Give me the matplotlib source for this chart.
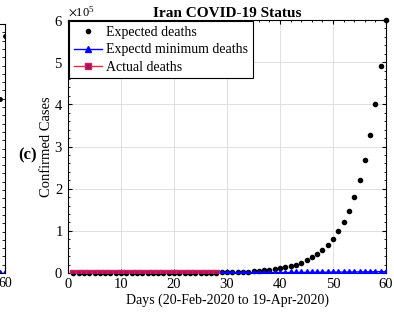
import matplotlib
matplotlib.use('Agg')
import matplotlib.pyplot as plt
from matplotlib.ticker import MultipleLocator, ScalarFormatter

plt.rcParams['font.family'] = ['Liberation Serif', 'DejaVu Serif']
plt.rcParams['mathtext.fontset'] = 'stix'

# panel (c) data: day index 1..60
days = list(range(1, 61))
expected_deaths = [
    5, 6, 7, 9, 11, 13, 16, 20, 24, 29,
    36, 43, 53, 65, 79, 96, 117, 143, 175, 210,
    250, 300, 370, 450, 550, 670, 820, 1000, 1220, 1490,
    1800, 2200, 2700, 3300, 4000, 4900, 6000, 7300, 9000, 11000,
    13500, 16500, 20000, 24500, 30000, 37000, 45000, 55000, 67000, 81000,
    100000, 120000, 148000, 180000, 220000, 268000, 328000, 400000, 490000, 600000,
]
min_deaths = [
    2, 3, 4, 5, 7, 9, 11, 14, 18, 22,
    27, 33, 40, 48, 57, 68, 80, 94, 110, 128,
    148, 170, 195, 222, 252, 285, 321, 360, 402, 447,
    495, 546, 600, 657, 717, 780, 846, 915, 987, 1062,
    1140, 1221, 1305, 1392, 1482, 1575, 1671, 1770, 1872, 1977,
    2085, 2196, 2310, 2427, 2547, 2670, 2796, 2925, 3057, 3192,
]
actual_days = list(range(1, 29))
actual_deaths = [2, 4, 5, 8, 12, 16, 19, 26, 34, 43, 54, 66, 77, 92,
                 107, 124, 145, 194, 237, 291, 354, 429, 514, 611, 724, 853, 988, 1135]

# right edge of panel (b), only a sliver shows
b_days = [59, 60]
b_expected = [4.2, 5.7]
b_min = [0.01, 0.01]

fig = plt.figure(figsize=(3.94, 3.2), dpi=100)

# sliver of previous panel
axb = fig.add_axes([-313 / 394, 47 / 320, 318 / 394, 249 / 320])
axb.plot(b_days, b_min, color='#0000ff', marker='^', markersize=4.5, lw=1)
axb.plot(b_days, b_expected, 'k.', markersize=5, linestyle='none')
axb.set_xlim(0, 60)
axb.set_ylim(0, 6)
axb.set_xticks([60])
axb.set_yticks([])
axb.yaxis.set_minor_locator(MultipleLocator(0.2))
axb.tick_params(which='both', direction='in', right=True, left=False, labelsize=10, pad=3)
axb.tick_params(which='minor', length=2)
axb.tick_params(which='major', length=4)

ax = fig.add_axes([68 / 394, 47 / 320, 318 / 394, 253 / 320])
ax.plot(days, expected_deaths, 'k.', markersize=6, linestyle='none',
        label='Expected deaths', zorder=2.5, clip_on=False)
ax.plot(days, min_deaths, color='#0000ff', marker='^', markersize=4.8, lw=1,
        label='Expectd minimum deaths', zorder=3)
ax.plot(actual_days, actual_deaths, color='#d9304a', marker='s', markersize=4.5,
        markerfacecolor='#a8105a', markeredgecolor='#c82060', lw=1,
        label='Actual deaths', zorder=4)

ax.set_xlim(0, 60)
ax.set_ylim(0, 6e5)
ax.set_xticks([0, 10, 20, 30, 40, 50, 60])
ax.set_yticks([0, 1e5, 2e5, 3e5, 4e5, 5e5, 6e5])
ax.xaxis.set_minor_locator(MultipleLocator(2))
ax.yaxis.set_minor_locator(MultipleLocator(2e4))
fmt = ScalarFormatter(useMathText=True)
fmt.set_powerlimits((0, 0))
ax.yaxis.set_major_formatter(fmt)
ax.yaxis.get_offset_text().set_fontsize(9)
ax.tick_params(which='both', direction='in', top=True, right=True, labelsize=10.5)
ax.tick_params(which='major', length=3)
ax.tick_params(which='minor', length=1.5)
ax.grid(True, which='major', color='#e0e0e0', lw=0.7)
ax.set_axisbelow(True)
for s in ax.spines.values():
    s.set_linewidth(0.8)

ax.set_title('Iran COVID-19 Status', fontsize=11, fontweight='bold', pad=2)
ax.set_xlabel('Days (20-Feb-2020 to 19-Apr-2020)', fontsize=10, labelpad=2)
ax.set_ylabel('Confirmed Cases', fontsize=10.5, labelpad=1)

leg = ax.legend(loc='upper left',
                fontsize=10, fancybox=False, edgecolor='black', framealpha=1,
                borderaxespad=0.1, handlelength=2.0, handletextpad=0.3,
                labelspacing=0.3, borderpad=0.35)
leg.get_frame().set_linewidth(0.8)
leg.set_zorder(6)

fig.text(28 / 394, 1 - 155 / 320, '(c)', fontsize=12, fontweight='bold',
         ha='center', va='center')

fig.savefig('out.png', dpi=100)
